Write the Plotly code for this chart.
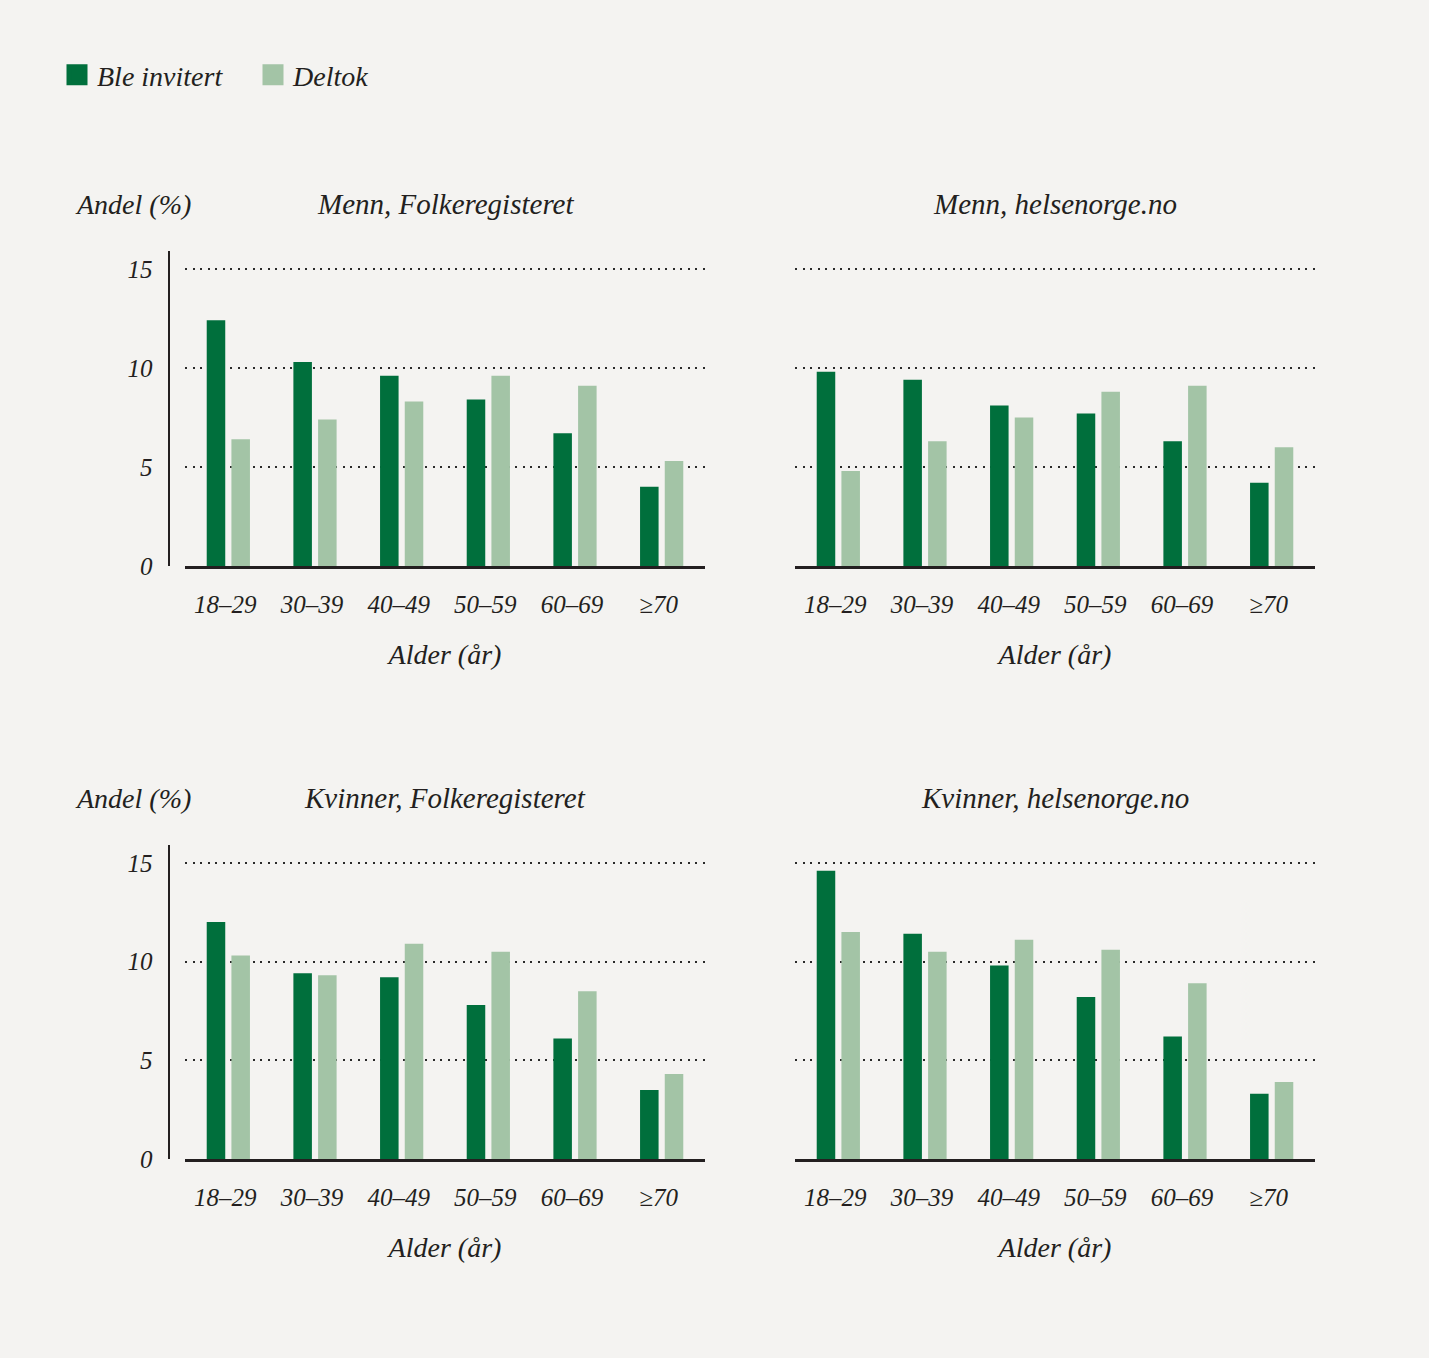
import plotly.graph_objects as go

# ---------------- data ----------------
categories = ["18–29", "30–39", "40–49", "50–59", "60–69", "≥70"]
panel_titles = ["Menn, Folkeregisteret", "Menn, helsenorge.no",
                "Kvinner, Folkeregisteret", "Kvinner, helsenorge.no"]
series_names = ["Ble invitert", "Deltok"]

menn_folk_invitert = [12.4, 10.3, 9.6, 8.4, 6.7, 4.0]
menn_folk_deltok = [6.4, 7.4, 8.3, 9.6, 9.1, 5.3]
menn_helse_invitert = [9.8, 9.4, 8.1, 7.7, 6.3, 4.2]
menn_helse_deltok = [4.8, 6.3, 7.5, 8.8, 9.1, 6.0]
kvinner_folk_invitert = [12.0, 9.4, 9.2, 7.8, 6.1, 3.5]
kvinner_folk_deltok = [10.3, 9.3, 10.9, 10.5, 8.5, 4.3]
kvinner_helse_invitert = [14.6, 11.4, 9.8, 8.2, 6.2, 3.3]
kvinner_helse_deltok = [11.5, 10.5, 11.1, 10.6, 8.9, 3.9]

y_ticks = [0, 5, 10, 15]
y_title = "Andel (%)"
x_title = "Alder (år)"

# ---------------- style ----------------
W, H = 1429, 1358
BG = "#f4f3f1"
DARK = "#006f3c"
LIGHT = "#a3c4a6"
INK = "#231f20"
FONT = "Liberation Serif"
colors = [DARK, LIGHT]

panels = [
    (menn_folk_invitert, menn_folk_deltok),
    (menn_helse_invitert, menn_helse_deltok),
    (kvinner_folk_invitert, kvinner_folk_deltok),
    (kvinner_helse_invitert, kvinner_helse_deltok),
]

x_dom_px = [(185, 705), (795, 1315)]
y_dom_px = [(251, 566), (845, 1159)]


def fx(p):
    return p / W


def fy(p):
    return 1 - p / H


fig = go.Figure()
layout = {}
annotations = []

for i, (inv, dlt) in enumerate(panels):
    row, col = divmod(i, 2)
    sfx = "" if i == 0 else str(i + 1)
    xa, ya = "x" + sfx, "y" + sfx
    for name, vals, c in zip(series_names, (inv, dlt), colors):
        fig.add_trace(go.Bar(x=categories, y=vals, name=name, xaxis=xa, yaxis=ya,
                             marker=dict(color=c, line=dict(width=0)),
                             showlegend=False))
    x0, x1 = x_dom_px[col]
    y0, y1 = y_dom_px[row]
    layout["xaxis" + sfx] = dict(
        domain=[fx(x0), fx(x1)], anchor=ya, type="category",
        categoryorder="array", categoryarray=categories, range=[-0.5, 5.5],
        showline=True, linewidth=2.5, linecolor=INK, ticks="", showgrid=False,
        zeroline=False, fixedrange=True, automargin=False,
        tickfont=dict(family=FONT, size=25, color=INK, style="italic"),
        ticklabelstandoff=14, ticklabelshift=-3,
        title=dict(text=x_title, standoff=28,
                   font=dict(family=FONT, size=28, color=INK, style="italic")),
    )
    left = col == 0
    ydict = dict(
        domain=[fy(y1), fy(y0)], range=[0, 15.9], tickmode="array", tickvals=y_ticks,
        showgrid=True, gridcolor="#2a2a2a", gridwidth=2, griddash="2px,5.5px",
        zeroline=False, ticks="", showticklabels=left, automargin=False,
        showline=left, linewidth=2, linecolor=INK,
        anchor="free" if left else xa,
        tickfont=dict(family=FONT, size=25, color=INK, style="italic"),
        ticklabelstandoff=10, fixedrange=True,
    )
    if left:
        ydict["position"] = fx(168.6)
    layout["yaxis" + sfx] = ydict
    annotations.append(dict(
        text=panel_titles[i], xref=xa + " domain", yref=ya + " domain",
        x=0.5, y=1, yshift=47, xanchor="center", yanchor="middle", showarrow=False,
        font=dict(family=FONT, size=29, color=INK, style="italic")))
    if left:
        annotations.append(dict(
            text=y_title, xref="paper", yref=ya + " domain",
            x=fx(73), y=1, yshift=47, xanchor="left", yanchor="middle", showarrow=False,
            font=dict(family=FONT, size=28, color=INK, style="italic")))

# legend entries
for name, c in zip(series_names, colors):
    fig.add_trace(go.Scatter(x=[None], y=[None], mode="markers", name=name,
                             xaxis="x", yaxis="y",
                             marker=dict(symbol="square", size=16, color=c,
                                         line=dict(color=c, width=8))))

fig.update_layout(
    **layout,
    annotations=annotations,
    width=W, height=H, autosize=False,
    margin=dict(l=0, r=0, t=0, b=0, pad=0, autoexpand=False),
    paper_bgcolor=BG, plot_bgcolor=BG,
    barmode="group", bargap=0.43, bargroupgap=0.25,
    font=dict(family=FONT, size=28, color=INK, style="italic"),
    legend=dict(orientation="h", x=fx(57), y=fy(75), xanchor="left", yanchor="middle",
                font=dict(family=FONT, size=28, color=INK, style="italic"),
                itemsizing="trace", bgcolor="rgba(0,0,0,0)", traceorder="normal",
                entrywidth=151, entrywidthmode="pixels"),
    showlegend=True,
)

post = (
    "var d=document.documentElement,b=document.body;"
    "d.style.margin='0';b.style.margin='0';b.style.padding='0';"
    "b.style.background='" + BG + "';d.style.background='" + BG + "';"
)

fig.write_html("out.html", config={"displayModeBar": False}, post_script=post)
